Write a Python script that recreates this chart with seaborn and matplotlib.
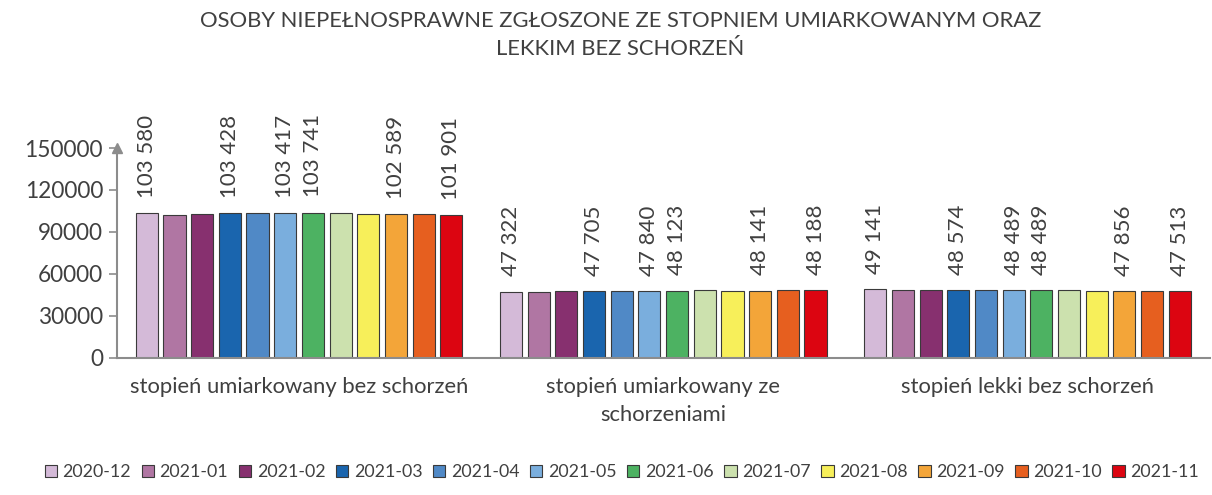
import pandas as pd
import numpy as np
import matplotlib
matplotlib.use("Agg")
import matplotlib.pyplot as plt
import seaborn as sns


# ---------------- DANE ---------------- #

categories = [
    "stopień umiarkowany bez schorzeń",
    "stopień umiarkowany ze\nschorzeniami",
    "stopień lekki bez schorzeń",
]

months = ["2020-12", "2021-01", "2021-02", "2021-03", "2021-04", "2021-05",
          "2021-06", "2021-07", "2021-08", "2021-09", "2021-10", "2021-11"]

umiarkowany_bez = [103580, 102400, 102900, 103428, 103400, 103417,
                   103741, 103500, 103000, 102589, 102500, 101901]
umiarkowany_ze = [47322, 47100, 47500, 47705, 47800, 47840,
                  48123, 48300, 48100, 48141, 48300, 48188]
lekki_bez = [49141, 48700, 48600, 48574, 48550, 48489,
             48489, 48200, 48000, 47856, 47700, 47513]

# miesiące z etykietami danych
labelled_months = ["2020-12", "2021-03", "2021-05", "2021-06", "2021-09", "2021-11"]

colors = ["#D4BAD8", "#B076A3", "#87306F", "#1A65AE", "#5089C6", "#7AAEDD",
          "#4DB262", "#CCE1AE", "#F7EF5A", "#F3A539", "#E65F1F", "#DC0511"]

title = "OSOBY NIEPEŁNOSPRAWNE ZGŁOSZONE ZE STOPNIEM UMIARKOWANYM ORAZ\nLEKKIM BEZ SCHORZEŃ"


# ---------------- DATAFRAME ---------------- #

rows = []
for cat, vals in zip(categories, [umiarkowany_bez, umiarkowany_ze, lekki_bez]):
    for m, v in zip(months, vals):
        rows.append({"kategoria": cat, "miesiac": m, "wartosc": v})
df = pd.DataFrame(rows)


# ---------------- WYKRES ---------------- #

sns.set_theme(style="white")
plt.rcParams["font.family"] = ["Lato", "DejaVu Sans"]

text_col = "#404040"
axis_col = "#8C8C8C"

fig = plt.figure(figsize=(12.12, 4.95), dpi=100)
ax = fig.add_axes([0.0965, 0.277, 0.9015, 0.424])

sns.barplot(
    data=df, x="kategoria", y="wartosc", hue="miesiac",
    order=categories, hue_order=months, palette=colors, saturation=1,
    width=0.912, gap=0.2, edgecolor="#3A3A3A", linewidth=0.8,
    ax=ax, legend=True
)

ax.set_xlim(-0.5, 2.5)
ax.set_ylim(0, 150000)
ax.set_yticks(np.arange(0, 150001, 30000))
ax.set_xlabel("")
ax.set_ylabel("")

for s in ["top", "right"]:
    ax.spines[s].set_visible(False)
ax.spines["left"].set_color(axis_col)
ax.spines["bottom"].set_color(axis_col)
ax.spines["left"].set_linewidth(1.5)
ax.spines["bottom"].set_linewidth(1.5)
ax.plot(0, 1, marker="^", markersize=7, color=axis_col,
        transform=ax.transAxes, clip_on=False)

ax.tick_params(axis="y", length=6, width=1.2, color=axis_col, left=True,
               labelsize=16.3, labelcolor=text_col, pad=4)
ax.tick_params(axis="x", length=0, labelsize=15.8, labelcolor=text_col, pad=14)
for lab in ax.get_xticklabels():
    lab.set_linespacing(1.45)

# etykiety danych
for cont, m in zip(ax.containers, months):
    if m in labelled_months:
        labels = [f"{int(v):,}".replace(",", " ") for v in cont.datavalues]
        ax.bar_label(cont, labels=labels, rotation=90, padding=11,
                     fontsize=16, color=text_col)

# legenda
handles, lbls = ax.get_legend_handles_labels()
ax.get_legend().remove()
fig.legend(handles, lbls, loc="center", bbox_to_anchor=(0.513, 0.046),
           ncol=12, frameon=False, fontsize=12.8, handlelength=0.7,
           handleheight=0.7, handletextpad=0.3, columnspacing=0.6,
           labelcolor=text_col)

fig.text(0.512, 0.978, title, ha="center", va="top", fontsize=15.8,
         color=text_col, linespacing=1.5)

plt.savefig("out.png", dpi=100)
plt.close()
